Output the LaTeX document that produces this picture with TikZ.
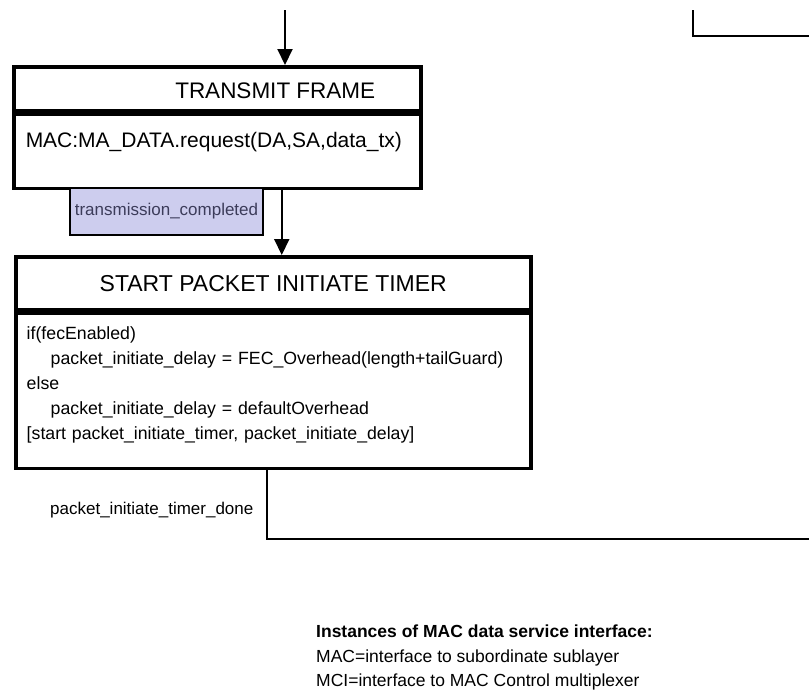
\documentclass[tikz,border=0pt]{standalone}
\usepackage{fontspec}
\setmainfont{Liberation Sans}
\usetikzlibrary{positioning, arrows.meta}
\definecolor{evfill}{RGB}{205,205,238}
\definecolor{evtext}{RGB}{60,60,90}

\begin{document}
\begin{tikzpicture}[x=1pt, y=-1pt]
\tikzstyle{titlebox} = [rectangle, draw=black, line width=3.5pt, inner sep=0pt, minimum height=44pt]
\tikzstyle{bodybox} = [rectangle, draw=black, line width=3.5pt, inner xsep=12pt, align=left, anchor=north]
\tikzstyle{event} = [rectangle, draw=black, line width=2pt, fill=evfill, text=evtext, font=\fontsize{17}{20}\selectfont, minimum width=193pt, minimum height=47pt, inner sep=0pt]
\tikzstyle{arrow} = [line width=2pt, -{Triangle[length=16pt,width=15pt]}]
\tikzstyle{line} = [line width=2pt]
\useasboundingbox (0,0) rectangle (809,697);

% Nodes
\node (txtitle) [titlebox, minimum width=407pt, anchor=north west, label={[xshift=58pt, yshift=-2pt, font=\fontsize{22.5}{26}\selectfont]center:TRANSMIT FRAME}] at (12,65) {};
\node (txbody) [bodybox, minimum width=407pt, minimum height=74pt, text width=383pt, text depth=22pt, font=\fontsize{21}{25}\selectfont] at (txtitle.south) {MAC:MA\_DATA.request(DA,SA,data\_tx)};
\node (txdone) [event, anchor=north west] at (69,187) {transmission\_completed};

\node (sttitle) [titlebox, minimum width=515pt, minimum height=53pt, anchor=north west, font=\fontsize{23}{27}\selectfont] at (14,255) {START PACKET INITIATE TIMER};
\node (stbody) [bodybox, minimum width=515pt, minimum height=155pt, text width=493pt, text height=1pt, inner xsep=11pt, font=\fontsize{17.7}{25}\selectfont] at (sttitle.south) {if(fecEnabled)\\
\hspace*{24pt}packet\_initiate\_delay = FEC\_Overhead(length+tailGuard)\\
else\\
\hspace*{24pt}packet\_initiate\_delay = defaultOverhead\\{}%
[start packet\_initiate\_timer, packet\_initiate\_delay]};
\node (tidone) [anchor=west, inner sep=0pt, font=\fontsize{17}{20}\selectfont] at (50,510) {packet\_initiate\_timer\_done};

\node (legend) [anchor=north west, align=left, inner sep=0pt, font=\fontsize{17.5}{24.5}\selectfont] at (316,625) {\textbf{Instances of MAC data service interface:}\\
MAC=interface to subordinate sublayer\\
MCI=interface to MAC Control multiplexer};

% Connectors
\coordinate (entry) at (285,10);
\coordinate (tcx) at ([xshift=64.5pt]txbody.south);
\coordinate (stx) at ([xshift=-6.5pt]stbody.south);
\coordinate (exitr) at (809,539);
\coordinate (topin) at (693,10);
\coordinate (topout) at (809,36);

\draw [arrow] (entry) -- (entry |- txtitle.north);
\draw [arrow] (tcx) -- (tcx |- sttitle.north);
\draw [line] (stx) |- (exitr);
\draw [line] (topin) |- (topout);

\end{tikzpicture}
\end{document}
